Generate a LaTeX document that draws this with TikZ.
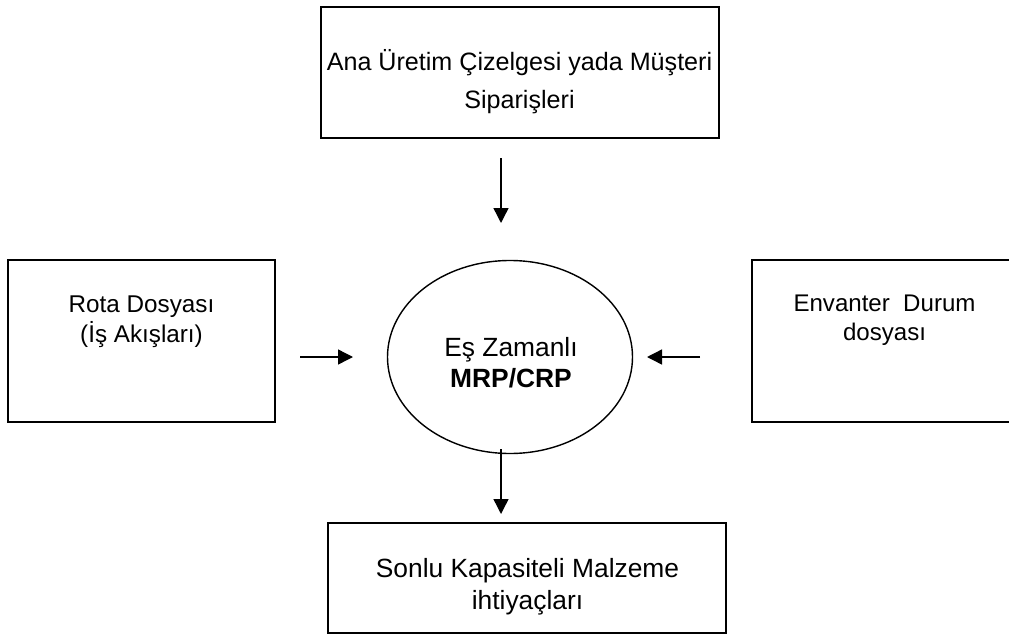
\documentclass[tikz,border=0pt]{standalone}
\usepackage{fontspec}
\setmainfont{Liberation Sans}
\usetikzlibrary{shapes.geometric}
\usetikzlibrary{arrows.meta}

\tikzset{
    box/.style={rectangle, fill=white, draw=black, line width=1pt},
    box_text/.style={align=center, font=\fontsize{14pt}{17pt}\selectfont},
    flow_arrow/.style={line width=0.8pt, -{Triangle[length=0.3cm, width=0.3cm]}}
}

\begin{document}
\begin{tikzpicture}

    \useasboundingbox (0,0) rectangle (20.18,-12.7);

    % Top box: master schedule / customer orders
    \node[box, minimum width=7.96cm, minimum height=2.62cm] (Top_Box) at (10.40,-1.45) {};
    \node[box_text, font=\fontsize{14.3pt}{22pt}\selectfont] (Top_Text) at (10.39,-1.63)
        {Ana Üretim Çizelgesi yada Müşteri\\Siparişleri};

    % Left and right input boxes
    \node[box, minimum width=5.34cm, minimum height=3.24cm] (Rota_Box) at (2.83,-6.82) {};
    \node[box_text, font=\fontsize{13.8pt}{17pt}\selectfont] (Rota_Text) at (2.83,-6.43)
        {Rota Dosyası\\(İş Akışları)};

    \node[box, minimum width=5.36cm, minimum height=3.24cm] (Envanter_Box) at (17.72,-6.82) {};
    \node[box_text, font=\fontsize{13.7pt}{16.5pt}\selectfont] (Envanter_Text) at (17.69,-6.40)
        {Envanter\ \ Durum\\dosyası};

    % Central ellipse
    \node[ellipse, draw=black, line width=0.8pt,
          minimum width=4.9cm, minimum height=3.86cm] (MRP_Ellipse) at (10.20,-7.14) {};
    \node[box_text, font=\fontsize{15pt}{17.5pt}\selectfont] (MRP_Text) at (10.22,-7.25)
        {Eş Zamanlı\\\textbf{MRP/CRP}};

    % Bottom box: output
    \node[box, minimum width=7.96cm, minimum height=2.2cm] (Sonlu_Box) at (10.54,-11.56) {};
    \node[box_text, font=\fontsize{15pt}{18pt}\selectfont] (Sonlu_Text) at (10.55,-11.73)
        {Sonlu Kapasiteli Malzeme\\ihtiyaçları};

    % Arrow end points
    \coordinate (Top_Arrow_Start) at (10.02,-3.16);
    \coordinate (Top_Arrow_End) at (10.02,-4.46);
    \coordinate (Left_Arrow_Start) at (6.00,-7.14);
    \coordinate (Left_Arrow_End) at (7.06,-7.14);
    \coordinate (Right_Arrow_Start) at (14.00,-7.14);
    \coordinate (Right_Arrow_End) at (12.94,-7.14);
    \coordinate (Bottom_Arrow_Start) at (10.02,-8.98);
    \coordinate (Bottom_Arrow_End) at (10.02,-10.28);

    \draw[flow_arrow] (Top_Arrow_Start) -- (Top_Arrow_End);
    \draw[flow_arrow] (Left_Arrow_Start) -- (Left_Arrow_End);
    \draw[flow_arrow] (Right_Arrow_Start) -- (Right_Arrow_End);
    \draw[flow_arrow] (Bottom_Arrow_Start) -- (Bottom_Arrow_End);

\end{tikzpicture}
\end{document}
